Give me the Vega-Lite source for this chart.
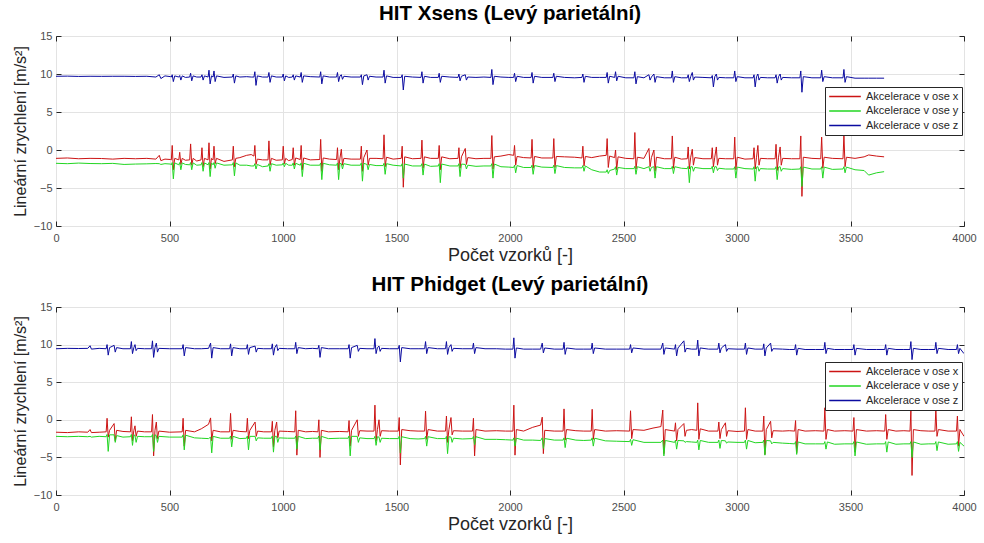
{
"$schema": "https://vega.github.io/schema/vega-lite/v6.json",
"padding": {"left": 11, "top": 3, "right": 18, "bottom": 8},
"background": "white",
"config": {
 "font": "Liberation Sans",
 "view": {"stroke": "#404040", "strokeWidth": 1},
 "axis": {"labelFont": "Liberation Sans", "labelFontSize": 11, "labelColor": "#4d4d4d", "titleFont": "Liberation Sans", "titleFontSize": 16, "titleFontWeight": "normal", "titleColor": "#262626", "gridColor": "#e3e3e3", "gridWidth": 1, "domain": false, "tickColor": "#262626", "tickSize": -5, "format": "d"},
 "title": {"font": "Liberation Sans", "fontSize": 20.5, "fontWeight": "bold", "color": "#000000", "offset": 6},
 "legend": {"labelFont": "Liberation Sans", "labelFontSize": 11, "labelColor": "#262626", "symbolType": "stroke", "symbolStrokeWidth": 1.6, "symbolSize": 1000, "strokeColor": "#262626", "fillColor": "white", "padding": 3, "rowPadding": 1.5, "clipHeight": 13, "labelOffset": 4}
},
"data": {"values": [
{"p":"A","t":0,"x":-1.1,"y":-1.75,"z":9.7},{"p":"A","t":50,"x":-1.05,"y":-1.8,"z":9.72},{"p":"A","t":100,"x":-1.15,"y":-1.72,"z":9.68},{"p":"A","t":150,"x":-1.1,"y":-1.78,"z":9.7},{"p":"A","t":200,"x":-1.12,"y":-1.8,"z":9.69},{"p":"A","t":250,"x":-1.2,"y":-1.76,"z":9.7},{"p":"A","t":300,"x":-1.1,"y":-1.9,"z":9.7},{"p":"A","t":350,"x":-1.15,"y":-1.85,"z":9.68},{"p":"A","t":400,"x":-1.1,"y":-1.82,"z":9.7},{"p":"A","t":440,"x":-1.2,"y":-1.78,"z":9.6},{"p":"A","t":455,"x":-0.7,"y":-1.8,"z":9.9},{"p":"A","t":462,"x":-1.4,"y":-1.9,"z":9.4},{"p":"A","t":480,"x":-1.2,"y":-1.8,"z":9.75},{"p":"A","t":505,"x":-1.25,"y":-1.85,"z":9.65},
{"p":"A","t":508,"x":-1.3,"y":-1.95,"z":9.6},{"p":"A","t":512,"x":0.6,"y":-1.65,"z":9.9},{"p":"A","t":517,"x":-2.6,"y":-3.8,"z":9.0},{"p":"A","t":523,"x":-1.1,"y":-1.7,"z":9.75},
{"p":"A","t":541,"x":-1.3,"y":-1.95,"z":9.6},{"p":"A","t":545,"x":-0.3,"y":-1.65,"z":9.8},{"p":"A","t":550,"x":-1.9,"y":-2.6,"z":9.2},{"p":"A","t":556,"x":-1.1,"y":-1.7,"z":9.75},{"p":"A","t":570,"x":-1.35,"y":-1.9,"z":9.55},
{"p":"A","t":589,"x":-1.3,"y":-1.95,"z":9.6},{"p":"A","t":593,"x":0.8,"y":-1.65,"z":10.1},{"p":"A","t":598,"x":-2.0,"y":-2.6,"z":9.1},{"p":"A","t":604,"x":-1.1,"y":-1.7,"z":9.75},{"p":"A","t":620,"x":-1.45,"y":-2.0,"z":9.6},
{"p":"A","t":639,"x":-1.3,"y":-1.95,"z":9.6},{"p":"A","t":643,"x":0.3,"y":-1.65,"z":9.9},{"p":"A","t":648,"x":-2.2,"y":-2.8,"z":9.2},{"p":"A","t":654,"x":-1.1,"y":-1.7,"z":9.75},
{"p":"A","t":670,"x":-1.3,"y":-1.95,"z":9.6},{"p":"A","t":674,"x":0.95,"y":-1.65,"z":10.5},{"p":"A","t":679,"x":-2.5,"y":-3.5,"z":8.7},{"p":"A","t":685,"x":-1.1,"y":-1.7,"z":9.75},
{"p":"A","t":692,"x":-1.3,"y":-1.95,"z":9.6},{"p":"A","t":696,"x":0.5,"y":-1.65,"z":10.4},{"p":"A","t":701,"x":-1.8,"y":-2.4,"z":9.0},{"p":"A","t":707,"x":-1.1,"y":-1.7,"z":9.75},{"p":"A","t":740,"x":-1.5,"y":-2.0,"z":9.55},
{"p":"A","t":777,"x":-1.3,"y":-1.95,"z":9.6},{"p":"A","t":781,"x":0.5,"y":-1.65,"z":10.0},{"p":"A","t":786,"x":-2.2,"y":-3.4,"z":8.8},{"p":"A","t":792,"x":-1.1,"y":-1.7,"z":9.75},
{"p":"A","t":810,"x":-1.0,"y":-2.0,"z":9.6},{"p":"A","t":840,"x":-0.7,"y":-2.0,"z":9.65},{"p":"A","t":860,"x":-0.6,"y":-2.1,"z":9.6},
{"p":"A","t":872,"x":-0.8,"y":-2.1,"z":9.6},{"p":"A","t":876,"x":0.6,"y":-1.8,"z":10.3},{"p":"A","t":881,"x":-1.9,"y":-2.5,"z":8.5},{"p":"A","t":887,"x":-1.2,"y":-1.9,"z":9.75},{"p":"A","t":910,"x":-1.3,"y":-2.2,"z":9.6},
{"p":"A","t":934,"x":-1.3,"y":-2.1,"z":9.6},{"p":"A","t":938,"x":1.2,"y":-1.8,"z":10.2},{"p":"A","t":943,"x":-2.0,"y":-2.8,"z":8.9},{"p":"A","t":949,"x":-1.1,"y":-1.8,"z":9.75},{"p":"A","t":970,"x":-1.35,"y":-2.0,"z":9.6},
{"p":"A","t":997,"x":-1.3,"y":-1.95,"z":9.6},{"p":"A","t":1001,"x":0.5,"y":-1.7,"z":10.0},{"p":"A","t":1006,"x":-1.8,"y":-2.2,"z":9.1},{"p":"A","t":1012,"x":-1.1,"y":-1.75,"z":9.75},{"p":"A","t":1025,"x":-1.4,"y":-2.0,"z":9.55},
{"p":"A","t":1041,"x":-1.25,"y":-2.0,"z":9.6},{"p":"A","t":1045,"x":0.3,"y":-1.7,"z":9.9},{"p":"A","t":1050,"x":-2.0,"y":-2.5,"z":9.2},{"p":"A","t":1056,"x":-1.05,"y":-1.75,"z":9.75},
{"p":"A","t":1076,"x":-1.25,"y":-2.0,"z":9.6},{"p":"A","t":1080,"x":0.6,"y":-1.7,"z":10.2},{"p":"A","t":1085,"x":-2.6,"y":-3.5,"z":8.9},{"p":"A","t":1091,"x":-1.05,"y":-1.75,"z":9.75},{"p":"A","t":1120,"x":-1.3,"y":-2.0,"z":9.65},
{"p":"A","t":1162,"x":-1.25,"y":-2.0,"z":9.6},{"p":"A","t":1166,"x":1.4,"y":-1.7,"z":10.3},{"p":"A","t":1171,"x":-2.8,"y":-3.9,"z":8.7},{"p":"A","t":1177,"x":-1.05,"y":-1.75,"z":9.75},{"p":"A","t":1205,"x":-1.2,"y":-1.95,"z":9.6},
{"p":"A","t":1236,"x":-1.25,"y":-2.0,"z":9.6},{"p":"A","t":1240,"x":0.3,"y":-1.7,"z":10.2},{"p":"A","t":1245,"x":-2.6,"y":-3.9,"z":9.0},{"p":"A","t":1251,"x":-1.05,"y":-1.75,"z":9.75},
{"p":"A","t":1257,"x":0.1,"y":-1.8,"z":9.9},{"p":"A","t":1262,"x":-2.0,"y":-2.5,"z":9.3},{"p":"A","t":1268,"x":-1.1,"y":-1.8,"z":9.7},{"p":"A","t":1300,"x":-1.2,"y":-2.0,"z":9.6},
{"p":"A","t":1341,"x":-1.2,"y":-2.0,"z":9.6},{"p":"A","t":1345,"x":0.5,"y":-1.7,"z":9.9},{"p":"A","t":1350,"x":-2.8,"y":-4.1,"z":8.6},{"p":"A","t":1356,"x":-1.0,"y":-1.75,"z":9.75},
{"p":"A","t":1370,"x":0.0,"y":-1.9,"z":9.9},{"p":"A","t":1375,"x":-2.0,"y":-2.6,"z":9.2},{"p":"A","t":1381,"x":-1.1,"y":-1.9,"z":9.7},{"p":"A","t":1410,"x":-1.1,"y":-2.05,"z":9.6},
{"p":"A","t":1441,"x":-1.15,"y":-2.05,"z":9.6},{"p":"A","t":1445,"x":2.0,"y":-1.75,"z":10.5},{"p":"A","t":1450,"x":-2.2,"y":-3.2,"z":8.8},{"p":"A","t":1456,"x":-0.95,"y":-1.8,"z":9.75},{"p":"A","t":1485,"x":-1.2,"y":-2.0,"z":9.55},
{"p":"A","t":1521,"x":-1.1,"y":-2.1,"z":9.55},{"p":"A","t":1525,"x":0.5,"y":-1.8,"z":9.9},{"p":"A","t":1530,"x":-4.9,"y":-3.7,"z":7.9},{"p":"A","t":1536,"x":-0.9,"y":-1.85,"z":9.7},{"p":"A","t":1570,"x":-1.15,"y":-2.1,"z":9.6},
{"p":"A","t":1608,"x":-1.1,"y":-2.1,"z":9.55},{"p":"A","t":1612,"x":1.3,"y":-1.8,"z":10.3},{"p":"A","t":1617,"x":-2.4,"y":-3.3,"z":8.8},{"p":"A","t":1623,"x":-0.9,"y":-1.85,"z":9.7},{"p":"A","t":1650,"x":-1.1,"y":-2.15,"z":9.55},
{"p":"A","t":1684,"x":-1.1,"y":-2.1,"z":9.55},{"p":"A","t":1688,"x":0.6,"y":-1.8,"z":10.1},{"p":"A","t":1693,"x":-2.6,"y":-4.3,"z":8.9},{"p":"A","t":1699,"x":-0.9,"y":-1.85,"z":9.7},{"p":"A","t":1735,"x":-1.15,"y":-2.1,"z":9.6},
{"p":"A","t":1771,"x":-1.1,"y":-2.1,"z":9.55},{"p":"A","t":1775,"x":0.3,"y":-1.8,"z":10.0},{"p":"A","t":1780,"x":-2.4,"y":-3.5,"z":9.1},{"p":"A","t":1786,"x":-0.9,"y":-1.85,"z":9.7},
{"p":"A","t":1803,"x":0.2,"y":-1.9,"z":9.9},{"p":"A","t":1808,"x":-1.9,"y":-2.5,"z":9.2},{"p":"A","t":1814,"x":-1.0,"y":-2.0,"z":9.6},{"p":"A","t":1850,"x":-1.15,"y":-2.15,"z":9.55},{"p":"A","t":1885,"x":-1.1,"y":-2.1,"z":9.6},
{"p":"A","t":1916,"x":-1.1,"y":-2.1,"z":9.55},{"p":"A","t":1920,"x":1.9,"y":-1.8,"z":10.6},{"p":"A","t":1925,"x":-2.5,"y":-3.7,"z":8.6},{"p":"A","t":1931,"x":-0.9,"y":-1.85,"z":9.7},{"p":"A","t":1960,"x":-0.8,"y":-2.2,"z":9.6},{"p":"A","t":1995,"x":-0.6,"y":-2.25,"z":9.55},
{"p":"A","t":2016,"x":-0.7,"y":-2.3,"z":9.55},{"p":"A","t":2020,"x":0.6,"y":-2.0,"z":10.1},{"p":"A","t":2025,"x":-2.0,"y":-3.0,"z":9.0},{"p":"A","t":2031,"x":-0.85,"y":-2.05,"z":9.7},{"p":"A","t":2060,"x":-1.0,"y":-2.3,"z":9.55},
{"p":"A","t":2093,"x":-1.05,"y":-2.3,"z":9.55},{"p":"A","t":2097,"x":1.4,"y":-2.0,"z":10.2},{"p":"A","t":2102,"x":-2.4,"y":-3.2,"z":8.8},{"p":"A","t":2108,"x":-0.85,"y":-2.05,"z":9.7},{"p":"A","t":2140,"x":-1.05,"y":-2.25,"z":9.55},
{"p":"A","t":2189,"x":-1.05,"y":-2.3,"z":9.55},{"p":"A","t":2193,"x":1.5,"y":-2.0,"z":10.1},{"p":"A","t":2198,"x":-2.3,"y":-3.1,"z":9.0},{"p":"A","t":2204,"x":-0.85,"y":-2.05,"z":9.7},{"p":"A","t":2240,"x":-0.9,"y":-2.3,"z":9.55},{"p":"A","t":2285,"x":-0.95,"y":-2.35,"z":9.5},
{"p":"A","t":2317,"x":-1.05,"y":-2.35,"z":9.55},{"p":"A","t":2321,"x":0.5,"y":-2.05,"z":10.0},{"p":"A","t":2326,"x":-2.1,"y":-2.8,"z":8.9},{"p":"A","t":2332,"x":-0.85,"y":-2.1,"z":9.7},{"p":"A","t":2360,"x":-1.0,"y":-2.6,"z":9.55},{"p":"A","t":2395,"x":-0.8,"y":-2.9,"z":9.55},
{"p":"A","t":2424,"x":-0.7,"y":-2.9,"z":9.55},{"p":"A","t":2428,"x":1.5,"y":-2.6,"z":10.2},{"p":"A","t":2433,"x":-2.3,"y":-3.1,"z":8.8},{"p":"A","t":2439,"x":-0.8,"y":-2.7,"z":9.7},
{"p":"A","t":2461,"x":-1.0,"y":-2.5,"z":9.55},{"p":"A","t":2465,"x":0.0,"y":-2.2,"z":10.3},{"p":"A","t":2470,"x":-2.6,"y":-3.3,"z":9.1},{"p":"A","t":2476,"x":-0.9,"y":-2.3,"z":9.7},{"p":"A","t":2510,"x":-1.1,"y":-2.45,"z":9.5},
{"p":"A","t":2546,"x":-1.15,"y":-2.45,"z":9.5},{"p":"A","t":2550,"x":2.3,"y":-2.15,"z":10.3},{"p":"A","t":2555,"x":-2.5,"y":-3.2,"z":8.7},{"p":"A","t":2561,"x":-0.95,"y":-2.2,"z":9.65},{"p":"A","t":2590,"x":-1.1,"y":-2.45,"z":9.5},
{"p":"A","t":2612,"x":0.2,"y":-2.2,"z":9.9},{"p":"A","t":2617,"x":-2.2,"y":-2.8,"z":9.2},{"p":"A","t":2623,"x":-1.0,"y":-2.3,"z":9.6},
{"p":"A","t":2634,"x":0.0,"y":-2.2,"z":10.0},{"p":"A","t":2639,"x":-2.8,"y":-3.7,"z":8.9},{"p":"A","t":2645,"x":-0.95,"y":-2.2,"z":9.65},{"p":"A","t":2680,"x":-1.15,"y":-2.45,"z":9.5},
{"p":"A","t":2711,"x":-1.15,"y":-2.45,"z":9.5},{"p":"A","t":2715,"x":1.85,"y":-2.15,"z":10.4},{"p":"A","t":2720,"x":-2.4,"y":-3.1,"z":8.9},{"p":"A","t":2726,"x":-0.95,"y":-2.2,"z":9.65},{"p":"A","t":2755,"x":-1.2,"y":-2.4,"z":9.5},
{"p":"A","t":2781,"x":-1.15,"y":-2.45,"z":9.5},{"p":"A","t":2785,"x":0.4,"y":-2.15,"z":9.9},{"p":"A","t":2790,"x":-2.5,"y":-4.3,"z":9.0},{"p":"A","t":2796,"x":-0.95,"y":-2.2,"z":9.65},
{"p":"A","t":2803,"x":0.1,"y":-2.2,"z":10.2},{"p":"A","t":2808,"x":-2.0,"y":-2.8,"z":9.2},{"p":"A","t":2814,"x":-1.0,"y":-2.3,"z":9.6},{"p":"A","t":2850,"x":-1.15,"y":-2.45,"z":9.55},
{"p":"A","t":2887,"x":-1.15,"y":-2.45,"z":9.5},{"p":"A","t":2891,"x":0.3,"y":-2.15,"z":9.8},{"p":"A","t":2896,"x":-2.2,"y":-3.0,"z":8.3},{"p":"A","t":2902,"x":-0.95,"y":-2.2,"z":9.65},
{"p":"A","t":2909,"x":0.4,"y":-2.2,"z":10.0},{"p":"A","t":2914,"x":-2.0,"y":-2.7,"z":9.2},{"p":"A","t":2920,"x":-1.1,"y":-2.4,"z":9.55},{"p":"A","t":2950,"x":-1.15,"y":-2.5,"z":9.5},
{"p":"A","t":2986,"x":-1.15,"y":-2.5,"z":9.5},{"p":"A","t":2990,"x":1.7,"y":-2.2,"z":10.4},{"p":"A","t":2995,"x":-2.6,"y":-3.7,"z":9.0},{"p":"A","t":3001,"x":-0.95,"y":-2.25,"z":9.65},{"p":"A","t":3035,"x":-1.2,"y":-2.45,"z":9.5},
{"p":"A","t":3071,"x":-1.15,"y":-2.5,"z":9.5},{"p":"A","t":3075,"x":0.3,"y":-2.2,"z":9.9},{"p":"A","t":3080,"x":-2.5,"y":-4.1,"z":8.3},{"p":"A","t":3086,"x":-0.95,"y":-2.25,"z":9.65},
{"p":"A","t":3092,"x":0.6,"y":-2.2,"z":10.0},{"p":"A","t":3097,"x":-2.0,"y":-2.8,"z":9.2},{"p":"A","t":3103,"x":-1.1,"y":-2.45,"z":9.55},{"p":"A","t":3135,"x":-1.15,"y":-2.5,"z":9.5},
{"p":"A","t":3168,"x":-1.15,"y":-2.5,"z":9.5},{"p":"A","t":3172,"x":0.75,"y":-2.2,"z":9.9},{"p":"A","t":3177,"x":-2.7,"y":-3.9,"z":8.8},{"p":"A","t":3183,"x":-0.95,"y":-2.25,"z":9.65},
{"p":"A","t":3190,"x":0.4,"y":-2.2,"z":10.0},{"p":"A","t":3195,"x":-2.0,"y":-2.8,"z":9.2},{"p":"A","t":3201,"x":-1.1,"y":-2.45,"z":9.55},{"p":"A","t":3240,"x":-1.15,"y":-2.55,"z":9.5},
{"p":"A","t":3277,"x":-1.15,"y":-2.5,"z":9.5},{"p":"A","t":3281,"x":1.85,"y":-2.2,"z":10.4},{"p":"A","t":3286,"x":-6.1,"y":-4.8,"z":7.6},{"p":"A","t":3292,"x":-0.95,"y":-2.25,"z":9.65},{"p":"A","t":3330,"x":-1.1,"y":-2.5,"z":9.5},
{"p":"A","t":3369,"x":-1.15,"y":-2.5,"z":9.5},{"p":"A","t":3373,"x":1.7,"y":-2.2,"z":10.5},{"p":"A","t":3378,"x":-2.4,"y":-3.7,"z":9.0},{"p":"A","t":3384,"x":-0.95,"y":-2.25,"z":9.65},{"p":"A","t":3420,"x":-1.1,"y":-2.55,"z":9.5},
{"p":"A","t":3467,"x":-1.15,"y":-2.5,"z":9.5},{"p":"A","t":3471,"x":2.0,"y":-2.2,"z":10.6},{"p":"A","t":3476,"x":-2.2,"y":-3.0,"z":8.9},{"p":"A","t":3482,"x":-0.95,"y":-2.25,"z":9.65},
{"p":"A","t":3520,"x":-1.1,"y":-2.6,"z":9.45},{"p":"A","t":3560,"x":-0.9,"y":-2.7,"z":9.45},{"p":"A","t":3580,"x":-0.65,"y":-3.3,"z":9.45},{"p":"A","t":3615,"x":-0.8,"y":-3.0,"z":9.45},{"p":"A","t":3648,"x":-0.9,"y":-2.85,"z":9.45},
{"p":"B","t":0,"x":-1.65,"y":-2.2,"z":9.45},{"p":"B","t":50,"x":-1.7,"y":-2.25,"z":9.5},{"p":"B","t":100,"x":-1.6,"y":-2.2,"z":9.48},{"p":"B","t":140,"x":-1.65,"y":-2.25,"z":9.5},{"p":"B","t":150,"x":-1.3,"y":-2.2,"z":9.85},{"p":"B","t":156,"x":-1.7,"y":-2.3,"z":9.4},{"p":"B","t":190,"x":-1.65,"y":-2.2,"z":9.5},
{"p":"B","t":221,"x":-1.6,"y":-2.25,"z":9.45},{"p":"B","t":225,"x":0.2,"y":-1.95,"z":10.0},{"p":"B","t":230,"x":-2.3,"y":-4.2,"z":8.6},{"p":"B","t":236,"x":-1.4,"y":-2.0,"z":9.6},
{"p":"B","t":256,"x":-0.5,"y":-2.0,"z":9.9},{"p":"B","t":261,"x":-2.8,"y":-3.0,"z":9.0},{"p":"B","t":267,"x":-1.4,"y":-2.1,"z":9.6},{"p":"B","t":295,"x":-1.55,"y":-2.3,"z":9.45},
{"p":"B","t":328,"x":-1.6,"y":-2.25,"z":9.45},{"p":"B","t":332,"x":0.4,"y":-1.95,"z":10.4},{"p":"B","t":337,"x":-2.8,"y":-3.4,"z":8.8},{"p":"B","t":343,"x":-1.4,"y":-2.0,"z":9.6},
{"p":"B","t":348,"x":-0.8,"y":-2.1,"z":10.0},{"p":"B","t":353,"x":-2.2,"y":-3.0,"z":9.2},{"p":"B","t":359,"x":-1.5,"y":-2.2,"z":9.5},{"p":"B","t":390,"x":-1.6,"y":-2.25,"z":9.45},
{"p":"B","t":421,"x":-1.6,"y":-2.25,"z":9.45},{"p":"B","t":425,"x":0.7,"y":-1.95,"z":10.5},{"p":"B","t":430,"x":-4.8,"y":-4.2,"z":8.3},{"p":"B","t":436,"x":-1.4,"y":-2.0,"z":9.6},
{"p":"B","t":442,"x":-0.3,"y":-2.1,"z":10.2},{"p":"B","t":447,"x":-2.5,"y":-3.0,"z":9.0},{"p":"B","t":453,"x":-1.5,"y":-2.2,"z":9.5},{"p":"B","t":500,"x":-1.65,"y":-2.3,"z":9.45},
{"p":"B","t":556,"x":-1.6,"y":-2.3,"z":9.45},{"p":"B","t":560,"x":0.2,"y":-2.0,"z":10.0},{"p":"B","t":565,"x":-3.5,"y":-4.0,"z":8.5},{"p":"B","t":571,"x":-1.4,"y":-2.05,"z":9.6},
{"p":"B","t":610,"x":-1.6,"y":-2.4,"z":9.45},{"p":"B","t":640,"x":-1.2,"y":-2.45,"z":9.45},{"p":"B","t":672,"x":-0.6,"y":-2.5,"z":9.5},
{"p":"B","t":681,"x":0.25,"y":-2.3,"z":10.2},{"p":"B","t":686,"x":-2.8,"y":-4.4,"z":8.2},{"p":"B","t":692,"x":-1.4,"y":-2.2,"z":9.6},{"p":"B","t":725,"x":-1.6,"y":-2.45,"z":9.45},
{"p":"B","t":765,"x":-1.6,"y":-2.45,"z":9.45},{"p":"B","t":769,"x":0.85,"y":-2.15,"z":10.1},{"p":"B","t":774,"x":-2.6,"y":-3.6,"z":8.5},{"p":"B","t":780,"x":-1.4,"y":-2.2,"z":9.6},{"p":"B","t":810,"x":-1.55,"y":-2.5,"z":9.45},
{"p":"B","t":839,"x":-1.6,"y":-2.45,"z":9.45},{"p":"B","t":843,"x":0.2,"y":-2.15,"z":10.0},{"p":"B","t":848,"x":-2.5,"y":-4.0,"z":8.7},{"p":"B","t":854,"x":-1.4,"y":-2.2,"z":9.6},
{"p":"B","t":877,"x":-0.3,"y":-2.2,"z":9.8},{"p":"B","t":882,"x":-2.2,"y":-2.8,"z":9.0},{"p":"B","t":888,"x":-1.5,"y":-2.4,"z":9.5},{"p":"B","t":915,"x":-1.6,"y":-2.45,"z":9.45},
{"p":"B","t":949,"x":-1.6,"y":-2.45,"z":9.45},{"p":"B","t":953,"x":-0.2,"y":-2.15,"z":10.1},{"p":"B","t":958,"x":-3.6,"y":-4.3,"z":8.6},{"p":"B","t":964,"x":-1.4,"y":-2.2,"z":9.6},
{"p":"B","t":972,"x":-0.3,"y":-2.2,"z":10.0},{"p":"B","t":977,"x":-2.4,"y":-3.0,"z":9.2},{"p":"B","t":983,"x":-1.5,"y":-2.4,"z":9.5},{"p":"B","t":1020,"x":-1.55,"y":-2.45,"z":9.45},
{"p":"B","t":1052,"x":-1.6,"y":-2.45,"z":9.45},{"p":"B","t":1056,"x":1.2,"y":-2.15,"z":10.3},{"p":"B","t":1061,"x":-4.7,"y":-3.9,"z":8.8},{"p":"B","t":1067,"x":-1.4,"y":-2.2,"z":9.6},{"p":"B","t":1100,"x":-1.6,"y":-2.5,"z":9.45},{"p":"B","t":1130,"x":-1.55,"y":-2.45,"z":9.5},
{"p":"B","t":1154,"x":-1.6,"y":-2.45,"z":9.45},{"p":"B","t":1158,"x":0.0,"y":-2.15,"z":9.9},{"p":"B","t":1163,"x":-5.0,"y":-4.0,"z":8.3},{"p":"B","t":1169,"x":-1.4,"y":-2.2,"z":9.6},{"p":"B","t":1200,"x":-1.6,"y":-2.5,"z":9.45},{"p":"B","t":1250,"x":-1.55,"y":-2.45,"z":9.45},
{"p":"B","t":1287,"x":-1.6,"y":-2.45,"z":9.45},{"p":"B","t":1291,"x":-0.1,"y":-2.15,"z":10.0},{"p":"B","t":1296,"x":-3.5,"y":-4.8,"z":8.2},{"p":"B","t":1302,"x":-1.4,"y":-2.2,"z":9.6},
{"p":"B","t":1327,"x":0.0,"y":-2.2,"z":9.9},{"p":"B","t":1332,"x":-2.2,"y":-3.0,"z":9.1},{"p":"B","t":1338,"x":-1.45,"y":-2.4,"z":9.5},{"p":"B","t":1370,"x":-1.5,"y":-2.5,"z":9.45},
{"p":"B","t":1401,"x":-1.5,"y":-2.5,"z":9.45},{"p":"B","t":1405,"x":1.95,"y":-2.2,"z":10.8},{"p":"B","t":1410,"x":-2.8,"y":-3.4,"z":8.8},{"p":"B","t":1416,"x":-1.3,"y":-2.25,"z":9.6},
{"p":"B","t":1423,"x":0.0,"y":-2.3,"z":9.8},{"p":"B","t":1428,"x":-2.2,"y":-3.0,"z":9.1},{"p":"B","t":1434,"x":-1.45,"y":-2.45,"z":9.5},{"p":"B","t":1470,"x":-1.5,"y":-2.5,"z":9.45},
{"p":"B","t":1508,"x":-1.5,"y":-2.5,"z":9.45},{"p":"B","t":1512,"x":0.3,"y":-2.2,"z":9.9},{"p":"B","t":1517,"x":-6.0,"y":-4.4,"z":7.7},{"p":"B","t":1523,"x":-1.3,"y":-2.25,"z":9.6},{"p":"B","t":1560,"x":-1.45,"y":-2.5,"z":9.45},{"p":"B","t":1595,"x":-1.5,"y":-2.55,"z":9.45},
{"p":"B","t":1624,"x":-1.5,"y":-2.5,"z":9.45},{"p":"B","t":1628,"x":1.15,"y":-2.2,"z":10.4},{"p":"B","t":1633,"x":-2.6,"y":-3.5,"z":8.8},{"p":"B","t":1639,"x":-1.3,"y":-2.25,"z":9.6},{"p":"B","t":1680,"x":-1.5,"y":-2.5,"z":9.45},
{"p":"B","t":1716,"x":-1.5,"y":-2.5,"z":9.45},{"p":"B","t":1720,"x":0.5,"y":-2.2,"z":10.4},{"p":"B","t":1725,"x":-3.0,"y":-4.5,"z":8.7},{"p":"B","t":1731,"x":-1.3,"y":-2.25,"z":9.6},
{"p":"B","t":1740,"x":0.3,"y":-2.3,"z":10.0},{"p":"B","t":1745,"x":-2.0,"y":-3.0,"z":9.1},{"p":"B","t":1751,"x":-1.45,"y":-2.45,"z":9.5},{"p":"B","t":1790,"x":-1.5,"y":-2.55,"z":9.45},
{"p":"B","t":1835,"x":-1.5,"y":-2.5,"z":9.45},{"p":"B","t":1839,"x":0.2,"y":-2.2,"z":10.2},{"p":"B","t":1844,"x":-4.8,"y":-3.3,"z":8.8},{"p":"B","t":1850,"x":-1.3,"y":-2.25,"z":9.6},{"p":"B","t":1890,"x":-1.5,"y":-2.6,"z":9.45},{"p":"B","t":1940,"x":-1.45,"y":-2.6,"z":9.45},{"p":"B","t":1980,"x":-1.5,"y":-2.65,"z":9.4},
{"p":"B","t":2013,"x":-1.5,"y":-2.7,"z":9.4},{"p":"B","t":2017,"x":1.95,"y":-2.4,"z":10.9},{"p":"B","t":2022,"x":-4.7,"y":-3.5,"z":8.2},{"p":"B","t":2028,"x":-1.3,"y":-2.45,"z":9.55},
{"p":"B","t":2060,"x":-1.5,"y":-2.7,"z":9.4},{"p":"B","t":2100,"x":-1.0,"y":-2.7,"z":9.4},{"p":"B","t":2135,"x":-0.7,"y":-2.75,"z":9.4},
{"p":"B","t":2142,"x":0.35,"y":-2.4,"z":10.2},{"p":"B","t":2147,"x":-4.5,"y":-3.8,"z":8.9},{"p":"B","t":2153,"x":-1.4,"y":-2.5,"z":9.55},{"p":"B","t":2195,"x":-1.5,"y":-2.7,"z":9.4},
{"p":"B","t":2234,"x":-1.5,"y":-2.7,"z":9.4},{"p":"B","t":2238,"x":1.45,"y":-2.4,"z":10.3},{"p":"B","t":2243,"x":-2.7,"y":-3.7,"z":8.7},{"p":"B","t":2249,"x":-1.3,"y":-2.45,"z":9.55},{"p":"B","t":2290,"x":-1.45,"y":-2.7,"z":9.4},{"p":"B","t":2325,"x":-1.5,"y":-2.75,"z":9.4},
{"p":"B","t":2358,"x":-1.5,"y":-2.7,"z":9.4},{"p":"B","t":2362,"x":1.4,"y":-2.4,"z":10.2},{"p":"B","t":2367,"x":-2.6,"y":-3.5,"z":8.8},{"p":"B","t":2373,"x":-1.3,"y":-2.45,"z":9.55},{"p":"B","t":2420,"x":-1.5,"y":-2.8,"z":9.4},{"p":"B","t":2470,"x":-1.45,"y":-2.85,"z":9.4},
{"p":"B","t":2527,"x":-1.5,"y":-2.9,"z":9.4},{"p":"B","t":2531,"x":1.2,"y":-2.6,"z":10.0},{"p":"B","t":2536,"x":-2.5,"y":-3.4,"z":8.9},{"p":"B","t":2542,"x":-1.3,"y":-2.65,"z":9.55},
{"p":"B","t":2590,"x":-1.4,"y":-3.0,"z":9.4},{"p":"B","t":2630,"x":-1.1,"y":-3.0,"z":9.4},{"p":"B","t":2665,"x":-0.9,"y":-3.0,"z":9.4},
{"p":"B","t":2673,"x":1.3,"y":-2.7,"z":10.2},{"p":"B","t":2678,"x":-4.5,"y":-4.8,"z":8.7},{"p":"B","t":2684,"x":-1.3,"y":-2.75,"z":9.55},
{"p":"B","t":2725,"x":-1.5,"y":-3.0,"z":9.4},{"p":"B","t":2729,"x":-0.4,"y":-2.7,"z":10.0},{"p":"B","t":2734,"x":-2.8,"y":-3.9,"z":8.5},{"p":"B","t":2740,"x":-1.3,"y":-2.75,"z":9.55},
{"p":"B","t":2766,"x":-0.5,"y":-2.8,"z":10.5},{"p":"B","t":2771,"x":-2.2,"y":-3.0,"z":9.0},{"p":"B","t":2777,"x":-1.4,"y":-2.9,"z":9.5},{"p":"B","t":2800,"x":-1.3,"y":-2.95,"z":9.4},
{"p":"B","t":2823,"x":-1.4,"y":-3.0,"z":9.4},{"p":"B","t":2827,"x":2.25,"y":-2.7,"z":10.6},{"p":"B","t":2832,"x":-2.6,"y":-4.0,"z":8.5},{"p":"B","t":2838,"x":-1.2,"y":-2.75,"z":9.55},{"p":"B","t":2875,"x":-1.5,"y":-3.0,"z":9.4},
{"p":"B","t":2916,"x":-1.5,"y":-3.0,"z":9.4},{"p":"B","t":2920,"x":-0.3,"y":-2.7,"z":10.2},{"p":"B","t":2925,"x":-2.5,"y":-3.8,"z":8.9},{"p":"B","t":2931,"x":-1.3,"y":-2.75,"z":9.55},
{"p":"B","t":2949,"x":-0.4,"y":-2.8,"z":10.0},{"p":"B","t":2954,"x":-2.2,"y":-3.1,"z":9.1},{"p":"B","t":2960,"x":-1.45,"y":-2.95,"z":9.45},{"p":"B","t":3000,"x":-1.55,"y":-3.0,"z":9.4},
{"p":"B","t":3033,"x":-1.5,"y":-3.0,"z":9.4},{"p":"B","t":3037,"x":1.6,"y":-2.7,"z":10.2},{"p":"B","t":3042,"x":-2.6,"y":-3.9,"z":8.7},{"p":"B","t":3048,"x":-1.3,"y":-2.75,"z":9.55},{"p":"B","t":3080,"x":-1.5,"y":-3.05,"z":9.4},
{"p":"B","t":3114,"x":-1.5,"y":-3.0,"z":9.4},{"p":"B","t":3118,"x":0.5,"y":-2.7,"z":10.1},{"p":"B","t":3123,"x":-4.6,"y":-4.7,"z":8.5},{"p":"B","t":3129,"x":-1.3,"y":-2.75,"z":9.55},
{"p":"B","t":3148,"x":-0.2,"y":-2.8,"z":10.2},{"p":"B","t":3153,"x":-2.4,"y":-3.2,"z":9.1},{"p":"B","t":3159,"x":-1.45,"y":-3.0,"z":9.45},{"p":"B","t":3200,"x":-1.5,"y":-3.1,"z":9.4},{"p":"B","t":3230,"x":-1.45,"y":-3.15,"z":9.35},
{"p":"B","t":3254,"x":-1.5,"y":-3.2,"z":9.35},{"p":"B","t":3258,"x":-0.1,"y":-2.9,"z":10.0},{"p":"B","t":3263,"x":-4.4,"y":-4.6,"z":8.6},{"p":"B","t":3269,"x":-1.3,"y":-2.95,"z":9.5},{"p":"B","t":3300,"x":-1.5,"y":-3.2,"z":9.35},{"p":"B","t":3345,"x":-1.45,"y":-3.2,"z":9.35},
{"p":"B","t":3383,"x":-1.5,"y":-3.2,"z":9.35},{"p":"B","t":3387,"x":1.6,"y":-2.9,"z":10.3},{"p":"B","t":3392,"x":-2.6,"y":-3.9,"z":8.8},{"p":"B","t":3398,"x":-1.3,"y":-2.95,"z":9.5},{"p":"B","t":3430,"x":-1.5,"y":-3.25,"z":9.35},{"p":"B","t":3475,"x":-1.45,"y":-3.2,"z":9.35},
{"p":"B","t":3511,"x":-1.5,"y":-3.2,"z":9.35},{"p":"B","t":3515,"x":0.3,"y":-2.9,"z":10.0},{"p":"B","t":3520,"x":-4.3,"y":-4.8,"z":8.6},{"p":"B","t":3526,"x":-1.3,"y":-2.95,"z":9.5},{"p":"B","t":3570,"x":-1.5,"y":-3.25,"z":9.35},{"p":"B","t":3615,"x":-1.45,"y":-3.2,"z":9.35},
{"p":"B","t":3651,"x":-1.5,"y":-3.2,"z":9.35},{"p":"B","t":3655,"x":0.7,"y":-2.9,"z":10.0},{"p":"B","t":3660,"x":-2.6,"y":-4.3,"z":8.6},{"p":"B","t":3666,"x":-1.3,"y":-2.95,"z":9.5},{"p":"B","t":3700,"x":-1.5,"y":-3.25,"z":9.35},{"p":"B","t":3735,"x":-1.45,"y":-3.2,"z":9.35},
{"p":"B","t":3762,"x":-1.5,"y":-3.2,"z":9.35},{"p":"B","t":3766,"x":1.2,"y":-2.9,"z":10.4},{"p":"B","t":3771,"x":-7.4,"y":-5.0,"z":8.0},{"p":"B","t":3777,"x":-1.3,"y":-2.95,"z":9.5},{"p":"B","t":3810,"x":-1.45,"y":-3.25,"z":9.35},{"p":"B","t":3845,"x":-1.5,"y":-3.2,"z":9.35},
{"p":"B","t":3872,"x":-1.5,"y":-3.2,"z":9.35},{"p":"B","t":3876,"x":1.4,"y":-2.9,"z":10.3},{"p":"B","t":3881,"x":-2.2,"y":-4.1,"z":8.8},{"p":"B","t":3887,"x":-1.3,"y":-2.95,"z":9.5},{"p":"B","t":3930,"x":-1.5,"y":-3.25,"z":9.35},
{"p":"B","t":3967,"x":-1.5,"y":-3.2,"z":9.35},{"p":"B","t":3971,"x":0.5,"y":-2.9,"z":10.0},{"p":"B","t":3976,"x":-3.5,"y":-4.2,"z":8.8},{"p":"B","t":3982,"x":-1.3,"y":-3.0,"z":9.5},{"p":"B","t":4000,"x":-2.2,"y":-3.5,"z":8.8}
]},
"spacing": 9,
"resolve": {"legend": {"color": "independent"}, "scale": {"color": "independent"}},
"vconcat": [
 {
  "title": "HIT Xsens (Levý parietální)",
  "width": 908, "height": 190,
  "transform": [{"filter": "datum.p == 'A'"}, {"fold": ["x", "y", "z"], "as": ["s", "v"]}],
  "resolve": {"axis": {"x": "independent", "y": "independent"}},
  "layer": [
   {
    "mark": {"type": "line", "strokeWidth": 1, "clip": true},
    "encoding": {
     "x": {"field": "t", "type": "quantitative", "scale": {"domain": [0, 4000], "nice": false}, "axis": {"title": "Počet vzorků [-]", "titleFontSize": 18, "values": [0, 500, 1000, 1500, 2000, 2500, 3000, 3500, 4000], "labelPadding": 11, "titlePadding": 3, "labelFlush": false}},
     "y": {"field": "v", "type": "quantitative", "scale": {"domain": [-10, 15], "nice": false}, "axis": {"title": "Lineární zrychlení [m/s²]", "values": [-10, -5, 0, 5, 10, 15], "labelPadding": 9, "titlePadding": 5}},
     "color": {"field": "s", "type": "nominal", "scale": {"domain": ["x", "y", "z"], "range": ["#cc1414", "#22d622", "#0b0ba0"]}, "legend": {"orient": "none", "legendX": 769, "legendY": 51, "title": null, "labelExpr": "'Akcelerace v ose ' + datum.label"}}
    }
   },
   {
    "mark": {"type": "line", "strokeOpacity": 0},
    "encoding": {
     "x": {"field": "t", "type": "quantitative", "axis": {"orient": "top", "labels": false, "grid": false, "title": null, "values": [0, 500, 1000, 1500, 2000, 2500, 3000, 3500, 4000]}},
     "y": {"field": "v", "type": "quantitative", "axis": {"orient": "right", "labels": false, "grid": false, "title": null, "values": [-10, -5, 0, 5, 10, 15]}}
    }
   }
  ]
 },
 {
  "title": "HIT Phidget (Levý parietální)",
  "width": 908, "height": 188,
  "transform": [{"filter": "datum.p == 'B'"}, {"fold": ["x", "y", "z"], "as": ["s", "v"]}],
  "resolve": {"axis": {"x": "independent", "y": "independent"}},
  "layer": [
   {
    "mark": {"type": "line", "strokeWidth": 1, "clip": true},
    "encoding": {
     "x": {"field": "t", "type": "quantitative", "scale": {"domain": [0, 4000], "nice": false}, "axis": {"title": "Počet vzorků [-]", "titleFontSize": 18, "values": [0, 500, 1000, 1500, 2000, 2500, 3000, 3500, 4000], "labelPadding": 11, "titlePadding": 3, "labelFlush": false}},
     "y": {"field": "v", "type": "quantitative", "scale": {"domain": [-10, 15], "nice": false}, "axis": {"title": "Lineární zrychlení [m/s²]", "values": [-10, -5, 0, 5, 10, 15], "labelPadding": 9, "titlePadding": 5}},
     "color": {"field": "s", "type": "nominal", "scale": {"domain": ["x", "y", "z"], "range": ["#cc1414", "#22d622", "#0b0ba0"]}, "legend": {"orient": "none", "legendX": 769, "legendY": 55, "title": null, "labelExpr": "'Akcelerace v ose ' + datum.label"}}
    }
   },
   {
    "mark": {"type": "line", "strokeOpacity": 0},
    "encoding": {
     "x": {"field": "t", "type": "quantitative", "axis": {"orient": "top", "labels": false, "grid": false, "title": null, "values": [0, 500, 1000, 1500, 2000, 2500, 3000, 3500, 4000]}},
     "y": {"field": "v", "type": "quantitative", "axis": {"orient": "right", "labels": false, "grid": false, "title": null, "values": [-10, -5, 0, 5, 10, 15]}}
    }
   }
  ]
 }
]
}
